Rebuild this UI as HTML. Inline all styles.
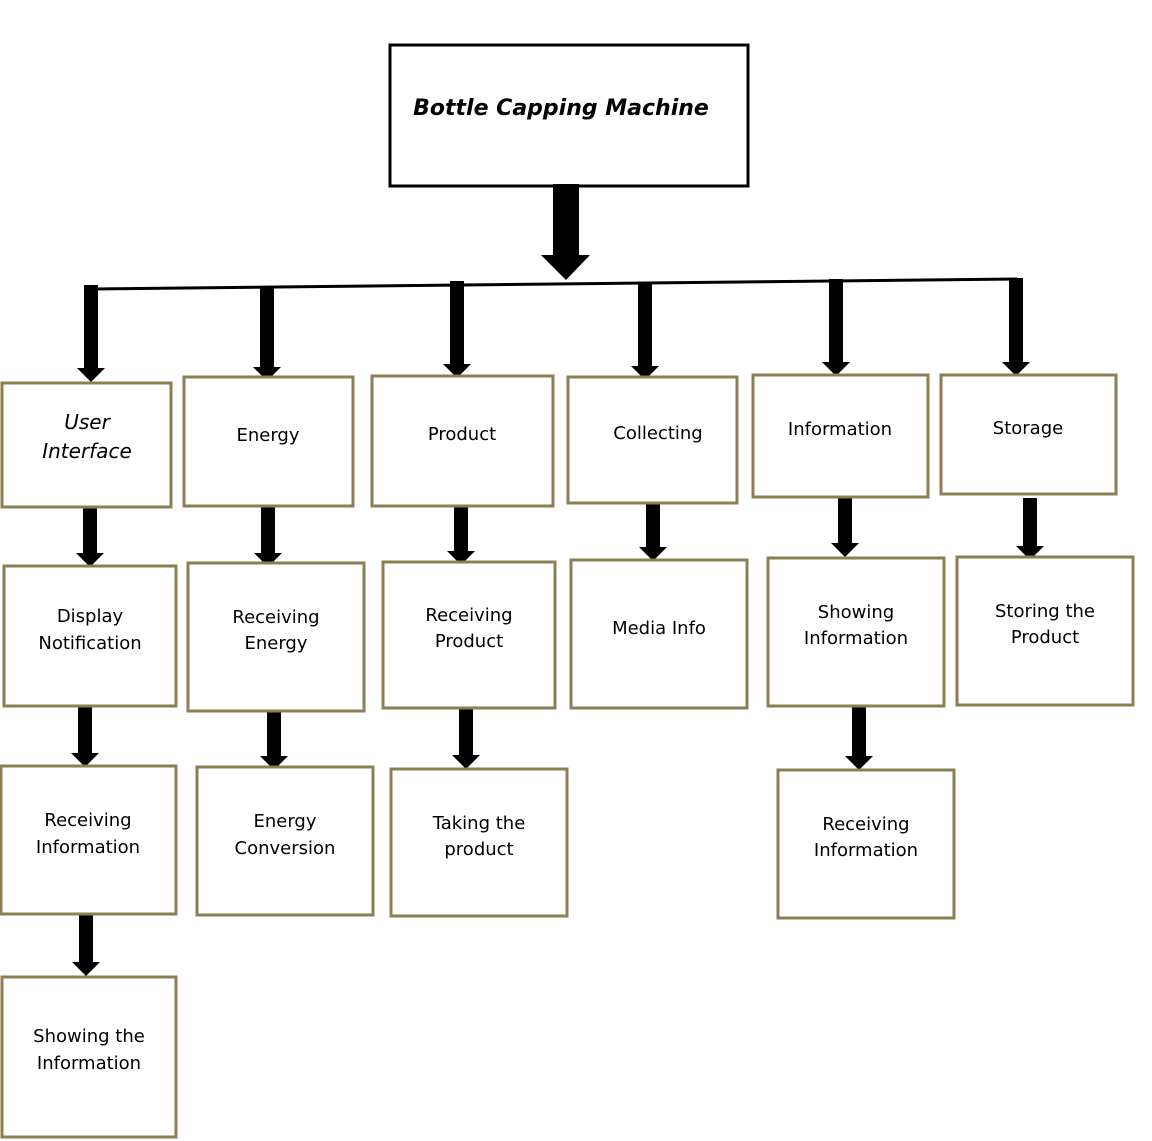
<!DOCTYPE html>
<html><head><meta charset="utf-8"><style>
html,body{margin:0;padding:0;background:#fff;}
svg{display:block;}
text{font-family:"DejaVu Sans","Liberation Sans",sans-serif;font-size:18px;fill:#000;text-anchor:middle;}
.b{fill:#fff;stroke:#8b7f55;stroke-width:3;}
</style></head><body>
<svg width="1152" height="1141" viewBox="0 0 1152 1141" xmlns="http://www.w3.org/2000/svg">
<rect x="390" y="45" width="358" height="141" fill="#fff" stroke="#000" stroke-width="3"/>
<text x="561" y="115" style="font-size:22px;font-weight:bold;font-style:italic;">Bottle Capping Machine</text>
<line x1="91" y1="289" x2="1017" y2="279" stroke="#000" stroke-width="3"/>
<g fill="#000">
<path d="M553 184H579V255H590L566 280L541 255H553Z"/>
<path d="M84 285H98V368H105L91 382L77 368H84Z"/>
<path d="M260 286H274V367H281L267 381L253 367H260Z"/>
<path d="M450 281H464V364H471L457 378L443 364H450Z"/>
<path d="M638 282H652V366H659L645 380L631 366H638Z"/>
<path d="M829 279H843V362H850L836 376L822 362H829Z"/>
<path d="M1009 278H1023V362H1030L1016 376L1002 362H1009Z"/>
<path d="M83 506H97V553H104L90 567L76 553H83Z"/>
<path d="M261 506H275V553H282L268 567L254 553H261Z"/>
<path d="M454 503H468V551H475L461 565L447 551H454Z"/>
<path d="M646 498H660V547H667L653 561L639 547H646Z"/>
<path d="M838 494H852V543H859L845 557L831 543H838Z"/>
<path d="M1023 498H1037V546H1044L1030 560L1016 546H1023Z"/>
<path d="M78 704H92V753H99L85 767L71 753H78Z"/>
<path d="M267 708H281V756H288L274 770L260 756H267Z"/>
<path d="M459 706H473V755H480L466 769L452 755H459Z"/>
<path d="M852 706H866V756H873L859 770L845 756H852Z"/>
<path d="M79 913H93V962H100L86 976L72 962H79Z"/>
</g>
<rect class="b" x="2" y="383" width="169" height="124"/>
<text x="87" y="429" style="font-style:italic;font-size:20px">User</text>
<text x="87" y="458" style="font-style:italic;font-size:20px">Interface</text>
<rect class="b" x="184" y="377" width="169" height="129"/>
<text x="268" y="441">Energy</text>
<rect class="b" x="372" y="376" width="181" height="130"/>
<text x="462" y="440">Product</text>
<rect class="b" x="568" y="377" width="169" height="126"/>
<text x="658" y="439">Collecting</text>
<rect class="b" x="753" y="375" width="175" height="122"/>
<text x="840" y="435">Information</text>
<rect class="b" x="941" y="375" width="175" height="119"/>
<text x="1028" y="434">Storage</text>
<rect class="b" x="4" y="566" width="172" height="140"/>
<text x="90" y="622">Display</text>
<text x="90" y="649">Notification</text>
<rect class="b" x="188" y="563" width="176" height="148"/>
<text x="276" y="623">Receiving</text>
<text x="276" y="649">Energy</text>
<rect class="b" x="383" y="562" width="172" height="146"/>
<text x="469" y="621">Receiving</text>
<text x="469" y="647">Product</text>
<rect class="b" x="571" y="560" width="176" height="148"/>
<text x="659" y="634">Media Info</text>
<rect class="b" x="768" y="558" width="176" height="148"/>
<text x="856" y="618">Showing</text>
<text x="856" y="644">Information</text>
<rect class="b" x="957" y="557" width="176" height="148"/>
<text x="1045" y="617">Storing the</text>
<text x="1045" y="643">Product</text>
<rect class="b" x="1" y="766" width="175" height="148"/>
<text x="88" y="826">Receiving</text>
<text x="88" y="853">Information</text>
<rect class="b" x="197" y="767" width="176" height="148"/>
<text x="285" y="827">Energy</text>
<text x="285" y="854">Conversion</text>
<rect class="b" x="391" y="769" width="176" height="147"/>
<text x="479" y="829">Taking the</text>
<text x="479" y="855">product</text>
<rect class="b" x="778" y="770" width="176" height="148"/>
<text x="866" y="830">Receiving</text>
<text x="866" y="856">Information</text>
<rect class="b" x="2" y="977" width="174" height="160"/>
<text x="89" y="1042">Showing the</text>
<text x="89" y="1069">Information</text>
</svg>
</body></html>
